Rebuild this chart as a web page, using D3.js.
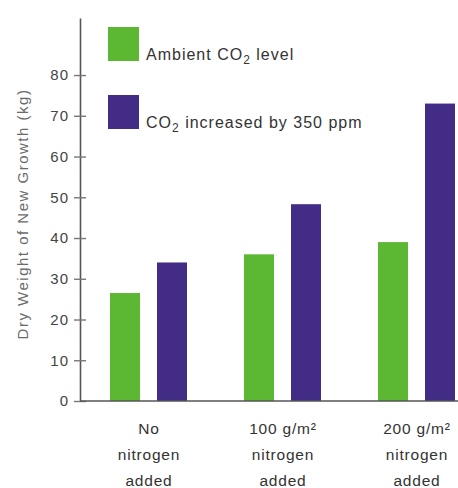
<!DOCTYPE html>
<html>
<head>
<meta charset="utf-8">
<script src="https://cdn.jsdelivr.net/npm/d3@7"></script>
<style>
  html, body { margin: 0; padding: 0; background: #fff; }
  svg { display: block; }
  text { font-family: "Liberation Sans", Arial, Helvetica, sans-serif; }
</style>
</head>
<body>
<svg id="chart" width="458" height="488"></svg>
<script>
// Treatment groups (each label split into lines)
const categories = ["none", "n100", "n200"];
const categoryLines = [
  ["No", "nitrogen", "added"],
  ["100 g/m\u00B2", "nitrogen", "added"],
  ["200 g/m\u00B2", "nitrogen", "added"]
];
const seriesKeys = ["ambient", "elevated"];
const ambientValues = [26.5, 36, 39];
const elevatedValues = [34, 48.3, 73];
const yTicks = [0, 10, 20, 30, 40, 50, 60, 70, 80];
const colors = { ambient: "#5cb733", elevated: "#432c85" };

const svg = d3.select("#chart");

const axisX = 80, baseY = 401, topY = 18;

const y = d3.scaleLinear().domain([0, 94]).range([baseY, topY]);
const x0 = d3.scaleBand().domain(categories).range([82, 484]).paddingInner(0).paddingOuter(0);
const x1 = d3.scaleBand().domain(seriesKeys).range([28, 105]).paddingInner(17 / 47).paddingOuter(0);

const rows = categories.map((c, i) => ({ cat: c, ambient: ambientValues[i], elevated: elevatedValues[i] }));

// Bars
const groups = svg.append("g").selectAll("g")
  .data(rows).join("g")
  .attr("transform", d => `translate(${x0(d.cat)},0)`);

groups.selectAll("rect")
  .data(d => seriesKeys.map(k => ({ key: k, value: d[k] })))
  .join("rect")
  .attr("x", d => x1(d.key))
  .attr("width", x1.bandwidth())
  .attr("y", d => y(d.value))
  .attr("height", d => y(0) - y(d.value))
  .attr("fill", d => colors[d.key]);

// Y axis with ticks crossing the line
const yAxis = svg.append("g")
  .attr("transform", `translate(${axisX},0)`)
  .call(d3.axisLeft(y).tickValues(yTicks).tickSize(6).tickPadding(5).tickSizeOuter(0));
yAxis.select(".domain").attr("stroke", "#555").attr("stroke-width", 1.6);
yAxis.selectAll(".tick line").attr("x1", -6).attr("x2", 6).attr("stroke", "#777").attr("stroke-width", 1.4);
yAxis.selectAll(".tick text")
  .attr("fill", "#444").attr("font-size", 15).style("letter-spacing", "1px")
  .attr("font-family", "Liberation Sans, Arial, sans-serif");

// Baseline
svg.append("line")
  .attr("x1", axisX).attr("x2", 458)
  .attr("y1", y(0)).attr("y2", y(0))
  .attr("stroke", "#555").attr("stroke-width", 1.4);

// Category labels
const catLabels = svg.append("g").selectAll("text")
  .data(categories).join("text")
  .attr("x", d => x0(d) + x0.bandwidth() / 2)
  .attr("y", 434)
  .attr("text-anchor", "middle")
  .attr("font-size", 15.5)
  .style("letter-spacing", "0.8px")
  .attr("fill", "#333");
catLabels.each(function(d, i) {
  const t = d3.select(this);
  categoryLines[i].forEach((line, j) => {
    t.append("tspan")
      .attr("x", x0(d) + x0.bandwidth() / 2)
      .attr("dy", j === 0 ? 0 : 26)
      .text(line);
  });
});

// Y axis title
svg.append("text")
  .attr("transform", `translate(28,214) rotate(-90)`)
  .attr("text-anchor", "middle")
  .attr("font-size", 15)
  .style("letter-spacing", "1.5px")
  .attr("fill", "#6b6b6b")
  .text("Dry Weight of New Growth (kg)");

// Legend
const legend = [
  { key: "ambient", y: 27, pre: "Ambient CO", post: " level" },
  { key: "elevated", y: 95, pre: "CO", post: " increased by 350 ppm" }
];
const lg = svg.append("g").selectAll("g").data(legend).join("g");
lg.append("rect")
  .attr("x", 108).attr("y", d => d.y)
  .attr("width", 31).attr("height", 34)
  .attr("fill", d => colors[d.key]);
const lt = lg.append("text")
  .attr("x", 146).attr("y", d => d.y + 33)
  .attr("font-size", 16)
  .style("letter-spacing", "1px")
  .attr("fill", "#333");
lt.append("tspan").text(d => d.pre);
lt.append("tspan").attr("font-size", 12).attr("dy", 4).text("2");
lt.append("tspan").attr("dy", -4).text(d => d.post);
</script>
</body>
</html>
